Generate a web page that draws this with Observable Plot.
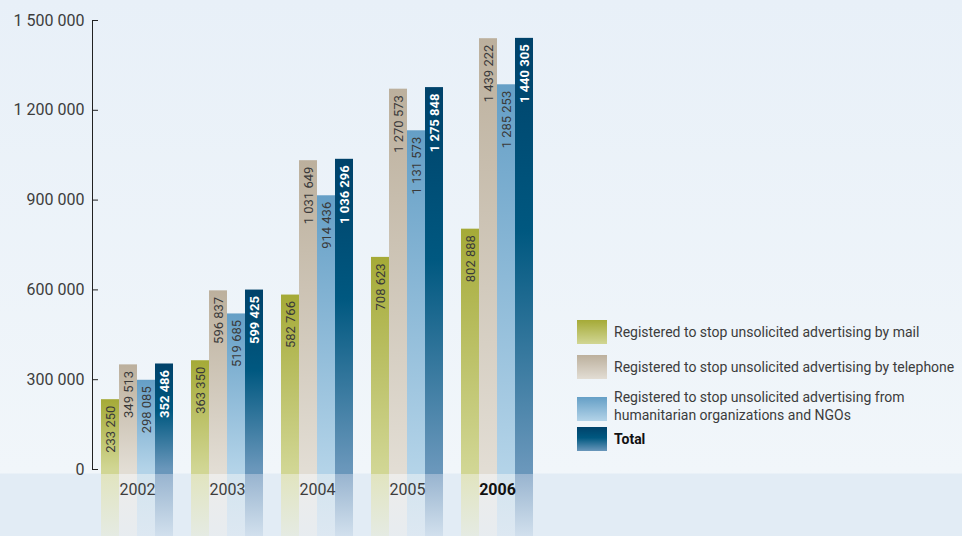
<!DOCTYPE html>
<html><head><meta charset="utf-8">
<script src="https://cdn.jsdelivr.net/npm/d3@7"></script>
<script src="https://cdn.jsdelivr.net/npm/@observablehq/plot@0.6"></script>
<style>
html,body{margin:0;padding:0;background:#e8f0f8;}
#chart{position:relative;width:962px;height:536px;overflow:hidden;font-family:Roboto,sans-serif;
background:linear-gradient(to bottom,#e8f0f8 0px,#f1f6fa 473px,#e2ecf5 474px,#e2ecf5 536px);}
#chart svg{position:absolute;left:0;top:0;}
.legend{position:absolute;left:577px;top:320px;font-size:14px;color:#3c3c3c;}
.item{position:absolute;left:0;display:flex;align-items:center;white-space:nowrap;line-height:18px;}
.sw{width:30px;height:24px;flex:none;margin-right:7px;}
</style></head><body><div id="chart"></div>
<script>
// ---- data ----
const years = ["2002", "2003", "2004", "2005", "2006"];
const seriesKeys = ["mail", "telephone", "ngo", "total"];
const seriesLabels = [
  "Registered to stop unsolicited advertising by mail",
  "Registered to stop unsolicited advertising by telephone",
  "Registered to stop unsolicited advertising from<br>humanitarian organizations and NGOs",
  "Total"
];
const mail = [233250, 363350, 582766, 708623, 802888];
const telephone = [349513, 596837, 1031649, 1270573, 1439222];
const ngo = [298085, 519685, 914436, 1131573, 1285253];
const total = [352486, 599425, 1036296, 1275848, 1440305];
const yTicks = [0, 300000, 600000, 900000, 1200000, 1500000];
const boldYear = "2006";

// ---- styles ----
const barStops = {
  mail: [[0, "#a5aa37"], [1, "#d1d694"]],
  telephone: [[0, "#bcb09d"], [1, "#e2ddd4"]],
  ngo: [[0, "#659fc6"], [1, "#b3d3e8"]],
  total: [[0, "#00426a"], [0.45, "#005880"], [1, "#6a97bb"]]
};
const paleStops = {
  mail: ["#e1e4bf", "#e5ebe4"],
  telephone: ["#edecea", "#e7ecf0"],
  ngo: ["#d3e4ef", "#dde8f2"],
  total: ["#98b4cf", "#d3e1ee"]
};
const yFloor = -230000; // reflection depth below the baseline (in y units)

const valuesBySeries = {mail, telephone, ngo, total};
const rows = years.flatMap((year, i) => seriesKeys.map(s => ({year, series: s, value: valuesBySeries[s][i]})));
const fmt = d3.formatLocale({thousands: " ", grouping: [3], decimal: ","}).format(",d");

const perSeries = s => rows.filter(d => d.series === s);

const plot = Plot.plot({
  width: 962, height: 536,
  marginTop: 20, marginBottom: 67, marginLeft: 92, marginRight: 420,
  style: {background: "transparent", fontFamily: "Roboto, sans-serif", color: "#222"},
  fx: {domain: years, paddingInner: 0, paddingOuter: 0, axis: null, label: null},
  x: {domain: seriesKeys, paddingInner: 0, paddingOuter: 0.466, axis: null, label: null},
  y: {domain: [0, 1500000], axis: null, label: null},
  marks: [
    ...seriesKeys.map(s => Plot.barY(perSeries(s), {fx: "year", x: "series", y1: 0, y2: yFloor, fill: `url(#r-${s})`, inset: 0})),
    ...seriesKeys.map(s => Plot.barY(perSeries(s), {fx: "year", x: "series", y: "value", fill: `url(#g-${s})`, inset: 0})),
    ...seriesKeys.map(s => Plot.text(perSeries(s), {
      fx: "year", x: "series", y: "value", text: d => fmt(d.value),
      rotate: -90, textAnchor: "end", lineAnchor: "middle", dy: 6,
      fontSize: 13, fontWeight: s === "total" ? "bold" : "normal",
      fill: s === "total" ? "white" : "#3a3a3a"
    })),
    Plot.axisY({ticks: yTicks, tickSize: -6, tickPadding: 14, tickFormat: fmt, fontSize: 16, fill: "#3d3d3d", label: null}),
    Plot.frame({anchor: "left", facet: "super", stroke: "#222"}),
    Plot.axisFx({ticks: years.filter(y => y !== boldYear), anchor: "bottom", tickSize: 0, tickPadding: 14, fontSize: 16, fill: "#3d3d3d", label: null}),
    Plot.axisFx({ticks: [boldYear], anchor: "bottom", tickSize: 0, tickPadding: 14, fontSize: 16, fontWeight: "bold", fill: "#111", label: null})
  ]
});

// gradient definitions
const defs = d3.create("svg:defs");
for (const s of seriesKeys) {
  const g = defs.append("linearGradient").attr("id", `g-${s}`).attr("x1", 0).attr("y1", 0).attr("x2", 0).attr("y2", 1);
  for (const [o, c] of barStops[s]) g.append("stop").attr("offset", o).attr("stop-color", c);
  const last = barStops[s][barStops[s].length - 1][1];
  const r = defs.append("linearGradient").attr("id", `r-${s}`).attr("x1", 0).attr("y1", 0).attr("x2", 0).attr("y2", 1);
  r.append("stop").attr("offset", 0).attr("stop-color", last);
  r.append("stop").attr("offset", 0.07).attr("stop-color", last);
  r.append("stop").attr("offset", 0.07).attr("stop-color", paleStops[s][0]);
  r.append("stop").attr("offset", 1).attr("stop-color", paleStops[s][1]);
}
plot.insertBefore(defs.node(), plot.firstChild);

const chart = document.getElementById("chart");
chart.appendChild(plot);

// legend
const legend = d3.select(chart).append("div").attr("class", "legend");
const legendTops = [0, 35, 71, 107];
seriesKeys.forEach((s, i) => {
  const item = legend.append("div").attr("class", "item").style("top", legendTops[i] + "px");
  const stops = barStops[s].map(([o, c]) => `${c} ${o * 100}%`).join(",");
  item.append("div").attr("class", "sw").style("background", `linear-gradient(to bottom, ${stops})`);
  item.append("div").html(seriesLabels[i])
    .style("font-weight", s === "total" ? "bold" : "normal")
    .style("color", s === "total" ? "#111" : "#3c3c3c")
    .style("position", "relative")
    .style("top", seriesLabels[i].includes("<br>") ? "-3px" : "0px");
});
</script>
</body></html>
